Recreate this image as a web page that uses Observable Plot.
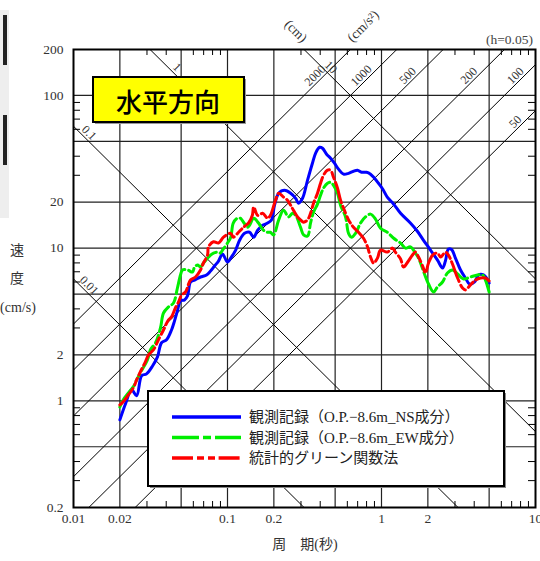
<!DOCTYPE html>
<html>
<head>
<meta charset="utf-8">
<script src="https://cdn.jsdelivr.net/npm/d3@7"></script>
<script src="https://cdn.jsdelivr.net/npm/@observablehq/plot@0.6"></script>
<style>
  html, body { margin: 0; padding: 0; background: #fff; }
  #wrap { position: relative; width: 540px; height: 561px; overflow: hidden; }
  .strip { position: absolute; left: 0; top: 10px; width: 9px; height: 208px; background: #eeeeee; }
  .bar { position: absolute; left: 3px; width: 4px; background: #222; }
</style>
</head>
<body>
<div id="wrap">
  <div class="strip"></div>
  <div class="bar" style="top:15px;height:50px"></div>
  <div class="bar" style="top:115px;height:50px"></div>
</div>
<script>
// Pseudo-velocity response spectra (h = 0.05), period in s, velocity in cm/s
const nsT = [0.020,0.0218,0.0238,0.0257,0.0277,0.0298,0.0326,0.0351,0.0373,0.0402,0.0433,0.0453,0.0473,0.0495,0.0526,0.0550,0.0575,0.0611,0.0668,0.0731,0.0776,0.0823,0.0874,0.0928,0.100,0.106,0.113,0.120,0.129,0.139,0.148,0.157,0.169,0.182,0.193,0.202,0.215,0.235,0.257,0.277,0.289,0.307,0.331,0.356,0.373,0.396,0.414,0.440,0.467,0.495,0.526,0.567,0.611,0.658,0.699,0.742,0.799,0.849,0.901,0.956,1.02,1.09,1.20,1.33,1.54,1.71,1.87,2.08,2.31,2.49,2.60,2.72,2.85,3.02,3.26,3.51,3.73,4.02,4.27,4.60,4.81,5.0];
const nsV = [0.75,0.96,1.18,1.08,1.46,1.50,1.69,1.94,2.40,2.51,2.91,3.34,3.88,4.51,4.58,4.86,6.00,6.18,6.47,6.67,7.08,7.63,8.23,9.14,8.11,8.74,9.71,11.3,12.5,12.7,11.8,13.1,14.1,14.6,15.3,19.1,22.9,23.9,22.9,21.2,19.7,21.2,27.9,36.0,41.8,45.8,45.1,41.2,38.8,36.0,32.9,30.5,30.9,31.9,32.4,31.4,31.4,30.5,28.7,26.6,24.3,21.6,19.4,16.9,14.6,12.9,11.3,9.71,8.35,7.41,8.23,9.86,9.8,8.61,7.19,6.37,5.82,6.00,6.67,6.67,6.37,5.91];

const ewT = [0.020,0.0211,0.0228,0.0245,0.0257,0.0272,0.0302,0.0316,0.0341,0.0367,0.0384,0.0414,0.0446,0.0473,0.0495,0.0510,0.0550,0.0593,0.0611,0.0639,0.0668,0.0698,0.0776,0.0811,0.0861,0.0901,0.0928,0.100,0.105,0.109,0.116,0.121,0.135,0.139,0.148,0.159,0.171,0.182,0.190,0.199,0.215,0.231,0.249,0.264,0.277,0.298,0.312,0.331,0.346,0.362,0.384,0.402,0.420,0.446,0.467,0.488,0.518,0.542,0.584,0.611,0.639,0.678,0.731,0.787,0.849,0.914,0.985,1.09,1.20,1.33,1.43,1.54,1.66,1.74,1.87,2.02,2.18,2.31,2.49,2.68,2.89,3.12,3.41,3.78,4.20,4.53,4.73,5.0];
const ewV = [0.91,1.02,1.13,1.24,1.37,1.53,1.85,2.16,2.40,3.00,3.76,4.12,4.37,5.48,6.67,7.19,7.19,6.97,7.52,7.75,7.52,7.99,9.01,9.28,9.42,9.28,9.71,10.8,11.8,14.6,15.7,15.7,13.7,14.1,15.7,14.6,13.1,12.7,12.7,12.2,15.3,17.7,16.0,16.9,16.4,13.7,12.2,12.0,14.6,17.2,19.4,22.2,24.7,26.6,27.0,25.8,22.9,19.1,16.0,12.5,11.8,12.5,14.6,16.0,16.7,15.5,13.5,12.7,11.6,10.8,10.0,10.2,9.28,8.61,7.08,5.82,5.16,5.57,6.00,6.87,7.19,6.77,6.28,6.47,6.67,6.67,6.18,5.16];

const grT = [0.020,0.0211,0.0228,0.0245,0.0257,0.0272,0.0293,0.0307,0.0331,0.0356,0.0384,0.0414,0.0433,0.0459,0.0481,0.0503,0.0534,0.0575,0.0620,0.0668,0.0698,0.0742,0.0753,0.0811,0.0874,0.0942,0.105,0.109,0.118,0.127,0.137,0.145,0.148,0.157,0.169,0.182,0.190,0.205,0.215,0.231,0.245,0.257,0.268,0.285,0.298,0.312,0.331,0.346,0.362,0.384,0.402,0.420,0.446,0.467,0.488,0.518,0.542,0.567,0.611,0.658,0.709,0.764,0.811,0.849,0.888,0.942,0.985,1.09,1.18,1.23,1.33,1.39,1.48,1.59,1.66,1.74,1.85,1.93,2.02,2.15,2.31,2.42,2.60,2.72,2.89,3.12,3.36,3.51,3.78,4.08,4.40,4.73,5.0];
const grV = [0.94,0.99,1.10,1.22,1.37,1.55,1.80,2.00,2.16,2.51,2.91,3.39,3.54,4.06,4.44,4.93,5.16,6.18,6.47,7.19,7.99,9.01,10.2,11.0,10.8,11.8,12.5,11.8,12.7,13.7,14.6,16.4,18.6,16.4,16.9,15.7,16.4,20.6,22.9,21.6,20.6,19.1,17.7,16.0,15.3,14.8,15.3,16.9,19.7,22.9,26.6,30.0,32.4,32.4,29.1,24.7,20.6,18.3,15.3,13.7,12.7,11.6,10.2,8.74,7.99,8.61,9.71,9.42,10.0,9.42,8.48,7.52,8.11,9.01,9.42,8.74,7.63,6.87,7.99,9.01,9.28,8.74,9.42,9.01,7.87,6.37,5.48,5.32,5.74,6.18,6.37,6.37,6.09];

const legendLabels = ["観測記録（O.P.−8.6m_NS成分）", "観測記録（O.P.−8.6m_EW成分）", "統計的グリーン関数法"];
const seriesColors = ["#0000ff", "#00ee00", "#ff0000"];
const seriesDashes = [null, "27,4,8,4", "21,4,7,4,7,3.6"];

// Axis ticks and tripartite guide levels
const periodTicks = [0.01,0.02,0.05,0.1,0.2,0.5,1,2,5,10];
const velocityTicks = [0.2,0.5,1,2,5,10,20,50,100,200];
const periodMinor = [0.03,0.04,0.06,0.07,0.08,0.09,0.3,0.4,0.6,0.7,0.8,0.9,3,4,6,7,8,9];
const velocityMinor = [0.3,0.4,0.6,0.7,0.8,0.9,3,4,6,7,8,9,30,40,60,70,80,90];
const dispLevels = [0.01,0.1,1,10];              // displacement, cm
const accLevels = [50,100,200,500,1000,2000];    // acceleration, cm/s²

const W = 540, H = 561;
const mL = 73, mR = 5, mT = 49, mB = 54;
const fw = W - mL - mR, fh = H - mT - mB;
const twoPi = 2 * Math.PI;
const [tMin, tMax] = [periodTicks[0], periodTicks[periodTicks.length - 1]];

const toRows = (T, V) => T.map((t, i) => ({T: t, V: V[i]}));
const series = [toRows(nsT, nsV), toRows(ewT, ewV), toRows(grT, grV)];

// Straight guides: constant displacement (V = 2πD/T) and constant acceleration (V = AT/2π)
const dispRows = dispLevels.flatMap(D => [tMin, tMax].map(T => ({level: D, T, V: twoPi * D / T})));
const accRows = accLevels.flatMap(A => [tMin, tMax].map(T => ({level: A, T, V: A * T / twoPi})));

const dispLabels = dispLevels.map(D => {
  const t = twoPi * D / 143;
  return t > 0.012 ? {level: D, T: t, V: 143} : {level: D, T: 0.0118, V: twoPi * D / 0.0118};
});
const accLabels = accLevels.map(A => {
  const t = twoPi * 126 / A;
  return t < 9 ? {level: A, T: t, V: 126} : {level: A, T: 7.9, V: A * 7.9 / twoPi};
});

const serif = "'Liberation Serif','Noto Sans CJK JP',serif";

const chart = Plot.plot({
  width: W, height: H,
  marginLeft: mL, marginRight: mR, marginTop: mT, marginBottom: mB,
  x: {type: "log", domain: [tMin, tMax]},
  y: {type: "log", domain: [velocityTicks[0], velocityTicks[velocityTicks.length - 1]]},
  style: {background: "#fff", color: "#333", fontFamily: serif, fontSize: "13.5px"},
  marks: [
    Plot.ruleX(periodTicks.slice(1, -1), {stroke: "#222", strokeWidth: 1.2}),
    Plot.ruleY(velocityTicks.slice(1, -1), {stroke: "#222", strokeWidth: 1.2}),
    Plot.line(dispRows, {x: "T", y: "V", z: "level", stroke: "#000", strokeWidth: 1, clip: true}),
    Plot.line(accRows, {x: "T", y: "V", z: "level", stroke: "#000", strokeWidth: 1, clip: true}),
    Plot.ruleX(periodMinor, {insetBottom: fh - 6, stroke: "#000"}),
    Plot.ruleX(periodMinor, {insetTop: fh - 6, stroke: "#000"}),
    Plot.ruleY(velocityMinor, {insetRight: fw - 7, stroke: "#000"}),
    Plot.ruleY(velocityMinor, {insetLeft: fw - 7, stroke: "#000"}),
    Plot.text(dispLabels, {x: "T", y: "V", text: d => String(d.level), rotate: 45, dx: 4.5, dy: -4.5, fontSize: 12, fill: "#333"}),
    Plot.text(accLabels, {x: "T", y: "V", text: d => String(d.level), rotate: -45, dx: -4.5, dy: -4.5, fontSize: 12, fill: "#333"}),
    ...series.map((rows, i) => Plot.line(rows, {
      x: "T", y: "V", stroke: seriesColors[i], strokeWidth: 3,
      strokeDasharray: seriesDashes[i], curve: "catmull-rom", strokeLinejoin: "round"
    })),
    Plot.frame({stroke: "#000", strokeWidth: 2}),
    Plot.axisX({ticks: periodTicks, tickSize: 0, tickPadding: 6, tickFormat: d => String(d), label: null}),
    Plot.axisY({ticks: velocityTicks, tickSize: 0, tickPadding: 10, tickFormat: d => String(d), label: null})
  ]
});

document.getElementById("wrap").appendChild(chart);
const svg = d3.select(chart);

// Title box
svg.append("rect").attr("x", 95).attr("y", 79).attr("width", 151).attr("height", 45).attr("fill", "#999");
svg.append("rect").attr("x", 93).attr("y", 77).attr("width", 151).attr("height", 45)
  .attr("fill", "#ffff00").attr("stroke", "#000").attr("stroke-width", 2);
svg.append("text").attr("x", 168).attr("y", 100).attr("text-anchor", "middle").attr("dominant-baseline", "central")
  .attr("font-family", "'Noto Sans CJK JP',sans-serif").attr("font-size", 26).attr("font-weight", 500)
  .attr("fill", "#000").text("水平方向");

// Legend
svg.append("rect").attr("x", 150).attr("y", 393).attr("width", 356).attr("height", 95).attr("fill", "#888");
svg.append("rect").attr("x", 148).attr("y", 391).attr("width", 356).attr("height", 95)
  .attr("fill", "#fff").attr("stroke", "#000").attr("stroke-width", 2);
legendLabels.forEach((label, i) => {
  const y = 417 + i * 20.5;
  svg.append("line").attr("x1", 172).attr("x2", 241).attr("y1", y).attr("y2", y)
    .attr("stroke", seriesColors[i]).attr("stroke-width", 3.5)
    .attr("stroke-dasharray", seriesDashes[i]);
  svg.append("text").attr("x", 249).attr("y", y).attr("text-anchor", "start").attr("dominant-baseline", "central")
    .attr("font-family", serif).attr("font-size", 15).attr("fill", "#222").text(label);
});

// Unit and damping notes
const note = (x, y, txt, opts = {}) => svg.append("text")
  .attr("x", x).attr("y", y).attr("text-anchor", opts.anchor || "middle")
  .attr("dominant-baseline", "central").attr("font-family", serif)
  .attr("font-size", opts.size || 13.5).attr("fill", opts.fill || "#333")
  .attr("transform", opts.rotate ? `rotate(${opts.rotate},${x},${y})` : null)
  .text(txt);
note(533, 39, "(h=0.05)", {anchor: "end", fill: "#444"});
note(296, 31, "(cm)", {rotate: 45});
note(363, 26, "(cm/s²)", {rotate: -45});
note(17, 250, "速", {size: 14});
note(17, 278, "度", {size: 14});
note(18, 307, "(cm/s)", {size: 14});
note(305, 544, "周　期(秒)", {size: 14});
</script>
</body>
</html>
